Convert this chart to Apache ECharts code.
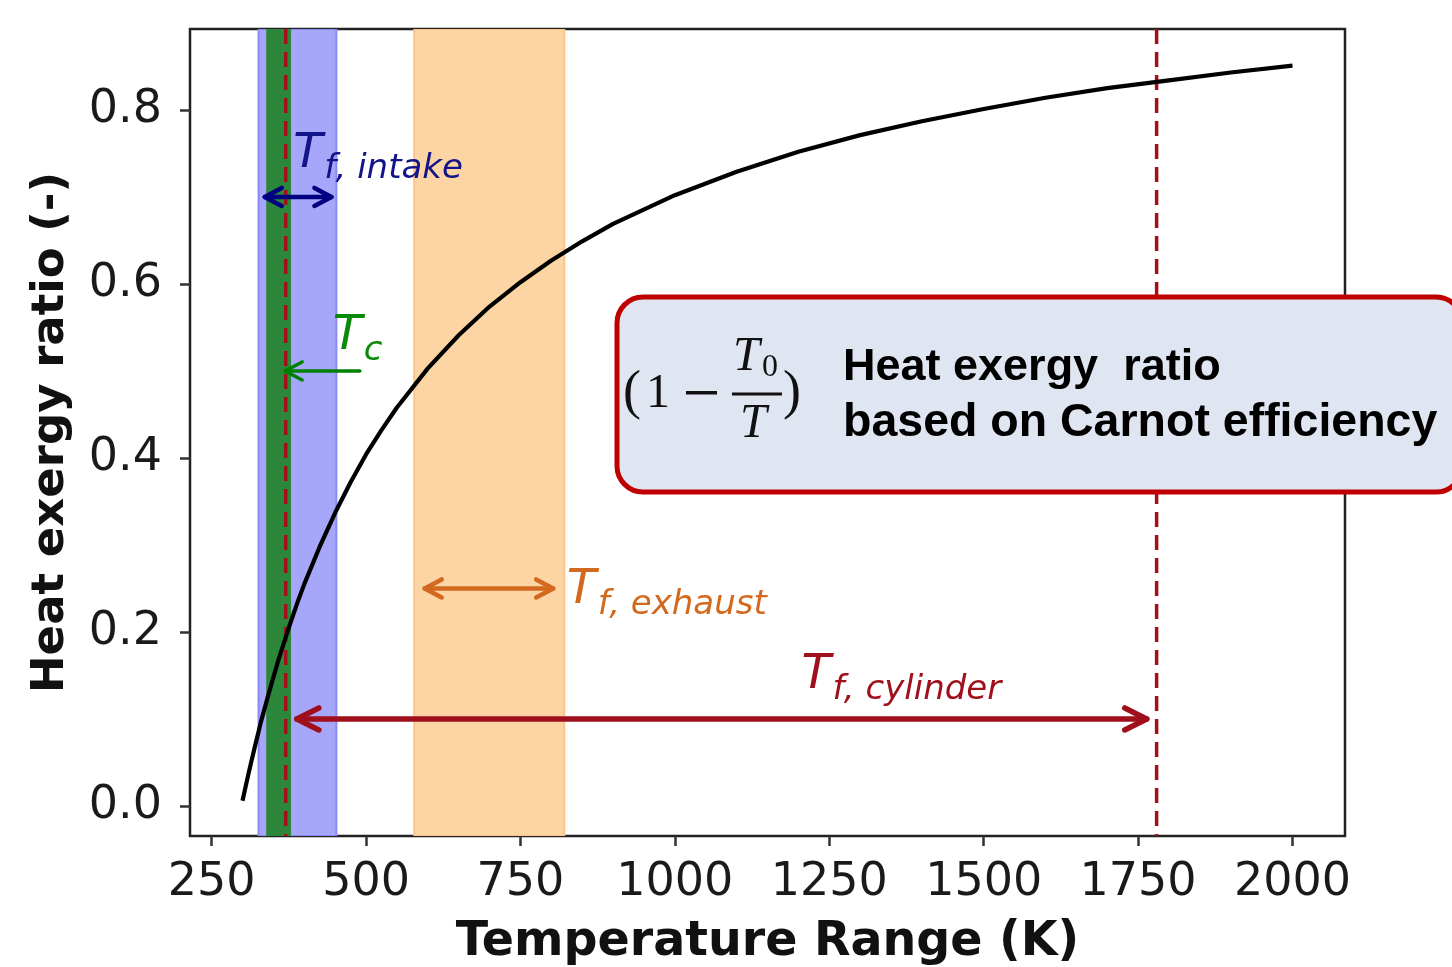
<!DOCTYPE html>
<html>
<head>
<meta charset="utf-8">
<script src="https://cdn.jsdelivr.net/npm/echarts@6/dist/echarts.min.js"></script>
<style>
  html, body { margin: 0; padding: 0; background: #fff; }
  #chart { width: 1452px; height: 967px; }
</style>
</head>
<body>
<div id="chart"></div>
<script>
// curve: heat exergy ratio vs temperature
const temps = [300, 310, 320, 330, 340, 350, 360, 375, 390, 400, 425, 450, 475, 500, 525, 550, 600, 650, 700, 750, 800, 850, 900, 1000, 1100, 1200, 1300, 1400, 1500, 1600, 1700, 1800, 1900, 2000];
const ratios = [0.006, 0.038, 0.068, 0.097, 0.123, 0.148, 0.172, 0.205, 0.236, 0.255, 0.298, 0.337, 0.372, 0.404, 0.432, 0.458, 0.503, 0.541, 0.574, 0.602, 0.627, 0.649, 0.669, 0.702, 0.729, 0.752, 0.771, 0.787, 0.801, 0.814, 0.825, 0.834, 0.843, 0.851];

const xTicks = [250, 500, 750, 1000, 1250, 1500, 1750, 2000];
const yTicks = [0, 0.2, 0.4, 0.6, 0.8];

// shaded temperature ranges (K)
const bandFrom = [326, 340, 578];
const bandTo = [452, 377, 821];
const bandFill = ['#a6a6fb', '#2c873b', '#fdd5a4'];
const bandEdge = ['#8a8af6', '#2c873b', '#fcc48a'];

// dashed cylinder limits (K)
const limitLines = [370, 1780];

// arrows: from, to, height
const arrowFrom = [336, 490, 595, 388];
const arrowTo = [444, 369, 803, 1764];
const arrowAt = [0.7, 0.5, 0.25, 0.1];
const arrowBoth = [true, false, true, true];
const arrowColour = ['#000080', '#008000', '#d2691e', '#a0101c'];

// labels T_sub
const labelSub = ['f, intake', 'c', 'f, exhaust', 'f, cylinder'];
const labelX = [382, 446, 825, 1205];
const labelY = [0.730, 0.521, 0.2285, 0.131];
const labelColour = ['#14148a', '#0a8a0a', '#d2691e', '#a0101c'];

const chart = echarts.init(document.getElementById('chart'));

const axisFont = { fontFamily: 'DejaVu Sans', fontSize: 46, color: '#1a1a1a' };

chart.setOption({
  animation: false,
  grid: {
    left: 190, right: 107, top: 29, bottom: 131,
    outerBoundsMode: 'none', containLabel: false,
    show: true, borderColor: '#222', borderWidth: 2.5, backgroundColor: 'transparent'
  },
  xAxis: {
    type: 'value', min: 215, max: 2085,
    name: 'Temperature Range (K)', nameLocation: 'middle', nameGap: 83,
    nameTextStyle: { fontFamily: 'DejaVu Sans', fontWeight: 'bold', fontSize: 47.5, color: '#111' },
    axisLine: { show: false, onZero: false },
    splitLine: { show: false },
    axisTick: { length: 10, lineStyle: { color: '#333', width: 2.5 }, customValues: xTicks },
    axisLabel: Object.assign({ margin: 24, customValues: xTicks, formatter: v => String(v) }, axisFont)
  },
  yAxis: {
    type: 'value', min: -0.0345, max: 0.893,
    name: 'Heat exergy ratio (-)', nameLocation: 'middle', nameGap: 116,
    nameTextStyle: { fontFamily: 'DejaVu Sans', fontWeight: 'bold', fontSize: 45, color: '#111' },
    axisLine: { show: false, onZero: false },
    splitLine: { show: false },
    axisTick: { length: 10, lineStyle: { color: '#333', width: 2.5 }, customValues: yTicks },
    axisLabel: Object.assign({ margin: 28, customValues: yTicks, formatter: v => v.toFixed(1) }, axisFont)
  },
  series: [
    {
      type: 'custom', z: 1, silent: true, clip: true,
      encode: { x: [0, 1] },
      data: bandFrom.map((f, i) => [f, bandTo[i]]),
      renderItem(params, api) {
        const cs = params.coordSys;
        const x0 = api.coord([api.value(0), 0])[0];
        const x1 = api.coord([api.value(1), 0])[0];
        const i = params.dataIndex;
        return {
          type: 'rect',
          shape: { x: x0, y: cs.y, width: x1 - x0, height: cs.height },
          style: { fill: bandFill[i], stroke: bandEdge[i], lineWidth: 2 }
        };
      }
    },
    {
      type: 'custom', z: 2, silent: true, clip: true,
      encode: { x: 0 },
      data: limitLines.map(v => [v]),
      renderItem(params, api) {
        const cs = params.coordSys;
        const x = api.coord([api.value(0), 0])[0];
        return {
          type: 'line',
          shape: { x1: x, y1: cs.y, x2: x, y2: cs.y + cs.height },
          style: { stroke: '#a50f1a', lineWidth: 3.5, lineDash: [15, 8] }
        };
      }
    },
    {
      type: 'line', z: 3, silent: true,
      data: temps.map((t, i) => [t, ratios[i]]),
      showSymbol: false,
      smooth: false,
      lineStyle: { color: '#000', width: 4.2, join: 'round' }
    },
    {
      type: 'custom', z: 4, silent: true,
      encode: { x: [0, 1], y: 2 },
      data: arrowFrom.map((f, i) => [f, arrowTo[i], arrowAt[i]]),
      renderItem(params, api) {
        const i = params.dataIndex;
        const a = api.coord([api.value(0), api.value(2)]);
        const b = api.coord([api.value(1), api.value(2)]);
        const col = arrowColour[i];
        const big = i === 3;
        const w = big ? 5.5 : (i === 1 ? 3.5 : 4.5);
        const hl = big ? 22 : 17;
        const hw = big ? 11 : 9;
        const dir = Math.sign(b[0] - a[0]);
        const head = (p, d) => ({
          type: 'polyline',
          shape: { points: [[p[0] - d * hl, p[1] - hw], [p[0], p[1]], [p[0] - d * hl, p[1] + hw]] },
          style: { stroke: col, lineWidth: w, fill: null, lineJoin: 'round', lineCap: 'round' }
        });
        const children = [{
          type: 'line',
          shape: { x1: a[0], y1: a[1], x2: b[0], y2: b[1] },
          style: { stroke: col, lineWidth: w, lineCap: 'round' }
        }, head(b, dir)];
        if (arrowBoth[i]) children.push(head(a, -dir));
        return { type: 'group', children };
      }
    },
    {
      type: 'custom', z: 5, silent: true,
      encode: { x: 0, y: 1 },
      data: labelX.map((x, i) => [x, labelY[i]]),
      renderItem(params, api) {
        const i = params.dataIndex;
        const p = api.coord([api.value(0), api.value(1)]);
        const col = labelColour[i];
        return {
          type: 'group',
          children: [
            { type: 'text', x: p[0], y: p[1] - 16.6,
              style: { text: 'T', font: 'italic 48px "DejaVu Sans"', fill: col, align: 'left', verticalAlign: 'middle' } },
            { type: 'text', x: p[0] + 31, y: p[1] - 1.8,
              style: { text: labelSub[i], font: 'italic 34px "DejaVu Sans"', fill: col, align: 'left', verticalAlign: 'middle' } }
          ]
        };
      }
    }
  ],
  graphic: [
    {
      type: 'rect', z: 100,
      shape: { x: 617, y: 297, width: 845, height: 195, r: 26 },
      style: { fill: '#dfe6f1', stroke: '#c00000', lineWidth: 5 }
    },
    { type: 'text', z: 101, x: 623, y: 394,
      style: { text: '(', font: '54px "Liberation Serif"', fill: '#111', verticalAlign: 'middle' } },
    { type: 'text', z: 101, x: 646, y: 394,
      style: { text: '1', font: '48px "Liberation Serif"', fill: '#111', verticalAlign: 'middle' } },
    { type: 'rect', z: 101, shape: { x: 686, y: 391, width: 31, height: 3.5 },
      style: { fill: '#111' } },
    { type: 'text', z: 101, x: 733, y: 357,
      style: { text: 'T', font: 'italic 48px "Liberation Serif"', fill: '#111', verticalAlign: 'middle' } },
    { type: 'text', z: 101, x: 762, y: 368,
      style: { text: '0', font: '32px "Liberation Serif"', fill: '#111', verticalAlign: 'middle' } },
    { type: 'line', z: 101, shape: { x1: 732, y1: 394, x2: 782, y2: 394 },
      style: { stroke: '#111', lineWidth: 3 } },
    { type: 'text', z: 101, x: 740, y: 424,
      style: { text: 'T', font: 'italic 48px "Liberation Serif"', fill: '#111', verticalAlign: 'middle' } },
    { type: 'text', z: 101, x: 783, y: 394,
      style: { text: ')', font: '54px "Liberation Serif"', fill: '#111', verticalAlign: 'middle' } },
    { type: 'text', z: 101, x: 843, y: 368,
      style: { text: 'Heat exergy  ratio', font: 'bold 45px "Liberation Sans"', fill: '#000', verticalAlign: 'middle' } },
    { type: 'text', z: 101, x: 843, y: 423,
      style: { text: 'based on Carnot efficiency', font: 'bold 46.5px "Liberation Sans"', fill: '#000', verticalAlign: 'middle' } }
  ]
});
</script>
</body>
</html>
